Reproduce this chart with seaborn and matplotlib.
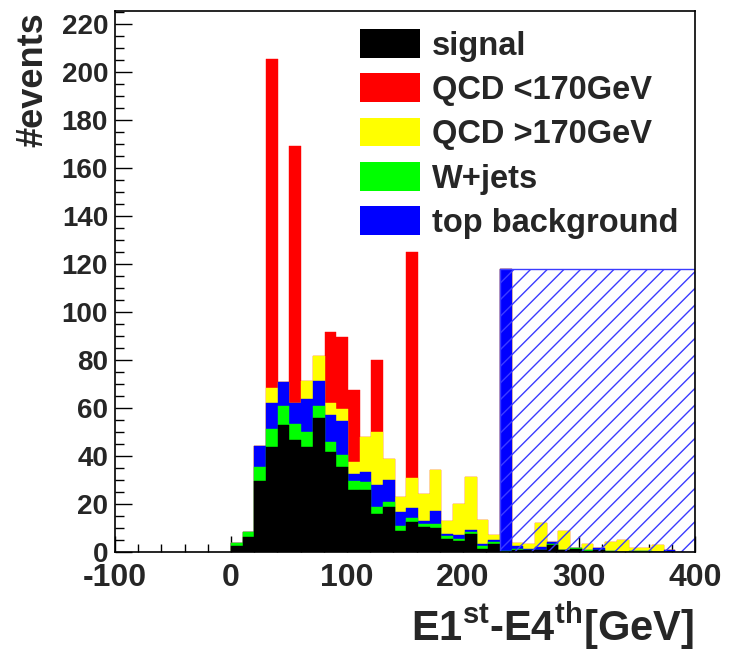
import numpy as np
import pandas as pd
import matplotlib
matplotlib.use("Agg")
import matplotlib.pyplot as plt
import seaborn as sns
from matplotlib.patches import Patch
from matplotlib.ticker import MultipleLocator

# ---------------- data (events per bin, bins start at 0 GeV) ----------------
bin_start = 0.0
bin_width = 10.08
signal = [2.5, 6.4, 29.8, 44, 53, 46.8, 44, 56.1, 41.9, 35.6, 25.9, 25.9, 15.9, 18.9,
          8.9, 12.7, 10.5, 10.3, 5.6, 4.7, 7.5, 1.5, 3.6, 0.3, 1.0, 0.8, 1.0, 2.9,
          0.8, 1.5, 0.5, 0.8, 0.3, 0.3, 0.3, 0.3, 0, 0]
wjets = [1.4, 1.9, 5.8, 7.4, 8, 6.5, 6.2, 5, 4.2, 4.9, 3.9, 3.5, 3, 2.1,
         2, 1.8, 1.5, 1.7, 1.2, 0.9, 1.0, 1.0, 0.7, 0.3, 0.5, 0, 0, 0.4,
         0, 0.3, 0.3, 0, 0.3, 0, 0.3, 0.3, 0, 0]
top_bkg = [0, 0, 8.8, 10.9, 10.1, 9, 13.7, 10.3, 11.1, 14.3, 3, 3.9, 9.1, 9.1,
           5.9, 4, 1, 5.1, 1.0, 1.8, 1.0, 0.8, 1.0, 117.4, 1.0, 0.7, 1.2, 0.9,
           0.2, 0, 0, 1.0, 0, 0, 0, 0, 0, 0.8]
qcd_hi = [0, 0, 0, 6.3, 0, 0, 7.6, 10.2, 4.9, 4.9, 4.9, 14.9, 22.2, 8.6,
          6.3, 12.5, 11.2, 17.4, 5.3, 12.6, 21.9, 10.1, 2.1, 0, 1.4, 1.8, 10.0, 0,
          7.8, 0, 2.5, 0, 3.7, 5.0, 1.3, 1.3, 2.9, 0]
qcd_lo = [0, 0, 0, 136.8, 0, 106.9, 0, 0, 29.9, 30.2, 29.9, 0, 30, 0,
          0, 94, 0, 0, 0, 0, 0, 0, 0, 0, 0, 0, 0, 0,
          0, 0, 0, 0, 0, 0, 0, 0, 0, 0]

labels = ["signal", "W+jets", "top background", "QCD >170GeV", "QCD <170GeV"]
colors = ["#000000", "#00ff00", "#0000ff", "#ffff00", "#ff0000"]
legend_order = ["signal", "QCD <170GeV", "QCD >170GeV", "W+jets", "top background"]

hatch_bin = 23          # hatched band starts at this bin
hatch_right = 400.0
hatch_height = 118.0

x_ticks = [-100, 0, 100, 200, 300, 400]
y_ticks = list(range(0, 221, 20))

# ---------------- style ----------------
sns.set_style("white")
plt.rcParams["font.family"] = ["Liberation Sans", "DejaVu Sans"]
plt.rcParams["font.weight"] = "bold"
plt.rcParams["axes.unicode_minus"] = False
plt.rcParams["mathtext.fontset"] = "custom"
plt.rcParams["mathtext.rm"] = "Liberation Sans:bold"
plt.rcParams["mathtext.bf"] = "Liberation Sans:bold"
plt.rcParams["mathtext.default"] = "rm"
plt.rcParams["hatch.linewidth"] = 1.0

W, H = 731, 652
fig = plt.figure(figsize=(W / 100, H / 100), dpi=100)
fig.patch.set_facecolor("white")
ax = fig.add_axes([115 / W, 1 - 552.3 / H, 580 / W, 541.6 / H])

n = len(signal)
edges = [bin_start + k * bin_width for k in range(n + 1)]
centers = [e + bin_width / 2 for e in edges[:-1]]
stack = np.cumsum(np.array([signal, wjets, top_bkg, qcd_hi, qcd_lo], dtype=float), axis=0)

# draw cumulative layers from the top of the stack down (THStack style)
for i in reversed(range(len(labels))):
    df = pd.DataFrame({"x": centers, "w": stack[i]})
    sns.histplot(data=df, x="x", weights="w", bins=edges, color=colors[i],
                 alpha=1, edgecolor=colors[i], linewidth=0.3, element="bars",
                 fill=True, ax=ax)

# hatched band
ax.bar(edges[hatch_bin], hatch_height, width=hatch_right - edges[hatch_bin],
       align="edge", facecolor="none", edgecolor="#3c3cff", hatch="//",
       linewidth=1.0, zorder=3)

ax.set_xlim(-100, 400)
ax.set_ylim(0, 225.7)
ax.set_xlabel("")
ax.set_ylabel("")
ax.set_xticks(x_ticks)
ax.set_xticklabels([str(t) for t in x_ticks])
ax.set_yticks(y_ticks)
ax.set_yticklabels([str(t) for t in y_ticks])
ax.xaxis.set_minor_locator(MultipleLocator(20))
ax.yaxis.set_minor_locator(MultipleLocator(5))
ax.tick_params(axis="both", which="both", direction="in", top=False, right=False,
               left=True, bottom=True, color="black", width=1.0)
ax.tick_params(axis="y", which="major", length=12.5, labelsize=20, pad=5)
ax.tick_params(axis="y", which="minor", length=6.2)
ax.tick_params(axis="x", which="major", length=11.5, labelsize=23, pad=8)
ax.tick_params(axis="x", which="minor", length=5.8)
for lab in ax.get_xticklabels() + ax.get_yticklabels():
    lab.set_fontweight("bold")
for s in ax.spines.values():
    s.set_color("black")
    s.set_linewidth(1.2)
    s.set_zorder(5)

# legend
handles = [Patch(facecolor=colors[labels.index(l)], edgecolor="none") for l in legend_order]
leg = ax.legend(handles, legend_order, loc="upper left",
                bbox_to_anchor=(360 / W, 1 - 29 / H), bbox_transform=fig.transFigure,
                frameon=False, handlelength=1.85, handleheight=0.98,
                labelspacing=0.36, handletextpad=0.36, borderpad=0, borderaxespad=0,
                prop={"weight": "bold", "size": 23.5})

# axis titles
fig.text(33 / W, 1 - 12 / H, "#events", rotation=90, ha="center", va="top",
         fontsize=26, fontweight="bold")
fig.text(694 / W, 1 - 641 / H, r"E1$^{\rm st}$-E4$^{\rm th}$[GeV]", ha="right",
         va="baseline", fontsize=30, fontweight="bold")

fig.savefig("out.png", dpi=100, facecolor="white")
